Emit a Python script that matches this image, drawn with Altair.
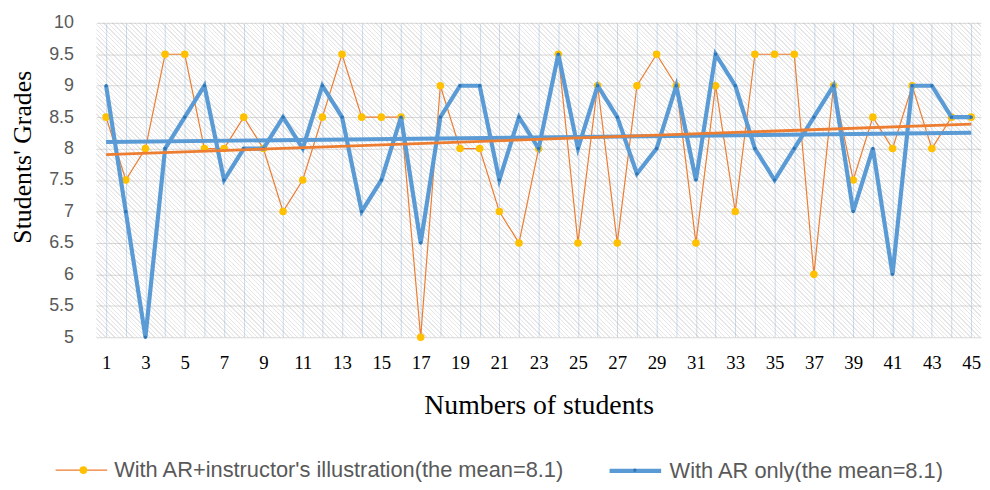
import altair as alt
import pandas as pd

# ---------------- data ----------------
students = list(range(1, 46))
ar_instructor = [8.5, 7.5, 8, 9.5, 9.5, 8, 8, 8.5, 8, 7,
                 7.5, 8.5, 9.5, 8.5, 8.5, 8.5, 5, 9, 8, 8,
                 7, 6.5, 8, 9.5, 6.5, 9, 6.5, 9, 9.5, 9,
                 6.5, 9, 7, 9.5, 9.5, 9.5, 6, 9, 7.5, 8.5,
                 8, 9, 8, 8.5, 8.5]
ar_only = [9, 7, 5, 8, 8.5, 9, 7.5, 8, 8, 8.5,
           8, 9, 8.5, 7, 7.5, 8.5, 6.5, 8.5, 9, 9,
           7.5, 8.5, 8, 9.5, 8, 9, 8.5, 7.6, 8, 9,
           7.5, 9.5, 9, 8, 7.5, 8, 8.5, 9, 7, 8,
           6, 9, 9, 8.5, 8.5]
series_names = ["With AR+instructor's illustration(the mean=8.1)",
                "With AR only(the mean=8.1)"]
marker_names = ["marker A", "marker B"]
y_ticks = [5, 5.5, 6, 6.5, 7, 7.5, 8, 8.5, 9, 9.5, 10]
x_domain = [0.5, 45.5]
y_domain = [5, 10]

df = pd.DataFrame({
    "student": students * 2,
    "grade": ar_instructor + ar_only,
    "series": [series_names[0]] * len(students) + [series_names[1]] * len(students),
    "marker": [marker_names[0]] * len(students) + [marker_names[1]] * len(students),
})
bg = pd.DataFrame({"student": [x_domain[0]], "student2": [x_domain[1]],
                   "grade": [y_domain[0]], "grade2": [y_domain[1]]})

# ---------------- style ----------------
W, H = 892, 317
ORANGE = "#ED7D31"
GOLD = "#FFC000"
BLUE = "#5B9BD5"
DARKBLUE = "#2E75B6"
SERIF = "Liberation Serif"
SANS = "Liberation Sans"

# diagonal hatch via a striped linear gradient (lines of constant x - y)
t = (W + H) / (W * W + H * H)
gx2, gy2 = t * W, 1 - t * H
period = 4.5
N = int(round((W + H) / period))
HATCH = "rgba(150,150,150,0.24)"
CLEAR = "rgba(255,255,255,0)"
stops = []
for k in range(N):
    a = round(k / N, 6)
    b = round((k + 0.3) / N, 6)
    c = round((k + 1) / N, 6)
    stops += [{"offset": a, "color": HATCH}, {"offset": b, "color": HATCH},
              {"offset": b, "color": CLEAR}, {"offset": c, "color": CLEAR}]
hatch = {"gradient": "linear", "x1": 0, "y1": 1, "x2": gx2, "y2": gy2, "stops": stops}

x_axis = alt.Axis(values=students,
                  labelExpr="datum.value % 2 == 1 ? '' + datum.value : ''",
                  grid=True, gridColor="#c9dcf0", gridWidth=1,
                  ticks=False, tickSize=0, domain=False,
                  labelFont=SERIF, labelFontSize=19, labelColor="#000000",
                  labelPadding=17, labelFlush=False, labelOverlap=False,
                  title="Numbers of students", titleFont=SERIF, titleFontSize=28,
                  titleFontWeight="normal", titleColor="#000000",
                  titleX=W / 2, titleY=77, titleBaseline="alphabetic", titleAlign="center")
y_axis = alt.Axis(values=y_ticks, labelExpr="'' + datum.value",
                  grid=True, gridColor="#d9d9d9", gridWidth=1,
                  ticks=False, tickSize=0, domain=False,
                  labelFont=SANS, labelFontSize=18, labelColor="#595959",
                  labelPadding=23, labelFlush=False, labelOverlap=False,
                  title="Students' Grades", titleFont=SERIF, titleFontSize=26,
                  titleFontWeight="normal", titleColor="#000000",
                  titleX=-66, titleY=135, titleAngle=270,
                  titleBaseline="alphabetic", titleAlign="center")

xs = alt.Scale(domain=x_domain, nice=False, zero=False)
ys = alt.Scale(domain=y_domain, nice=False, zero=False)

def X():
    return alt.X("student:Q", scale=xs, axis=x_axis, title="Numbers of students")

def Y():
    return alt.Y("grade:Q", scale=ys, axis=y_axis, title="Students' Grades")

# line legend (text + line symbols)
legend = alt.Legend(orient="none", legendX=-42, legendY=423, direction="horizontal",
                    title=None, symbolType="stroke", symbolSize=2704,
                    labelFont=SANS, labelFontSize=22, labelColor="#595959",
                    labelOffset=6, columnPadding=36, labelLimit=700, padding=0)
color_enc = alt.Color("series:N", scale=alt.Scale(domain=series_names, range=[ORANGE, BLUE]),
                      legend=legend)
width_enc = alt.StrokeWidth("series:N",
                            scale=alt.Scale(type="ordinal", domain=series_names, range=[1.2, 4.2]),
                            legend=legend)

# marker legend (only the dots, drawn onto the middle of the line symbols)
dot_legend = alt.Legend(orient="none", legendX=-24, legendY=440, direction="horizontal",
                        title=None, symbolType="circle", symbolStrokeWidth=0,
                        labelExpr="''", labelFontSize=22, labelOffset=6,
                        columnPadding=528, padding=0)
fill_enc = alt.Fill("marker:N", scale=alt.Scale(domain=marker_names, range=[GOLD, DARKBLUE]),
                    legend=dot_legend)
size_enc = alt.Size("marker:N", scale=alt.Scale(type="ordinal", domain=marker_names, range=[58, 12]),
                    legend=dot_legend)

background = alt.Chart(bg).mark_rect(fill=hatch, strokeWidth=0).encode(
    x=X(), x2="student2", y=Y(), y2="grade2")

base = alt.Chart(df)
f0 = alt.datum.series == series_names[0]
f1 = alt.datum.series == series_names[1]

line0 = base.transform_filter(f0).mark_line().encode(
    x=X(), y=Y(), color=color_enc, strokeWidth=width_enc)
pts0 = base.transform_filter(f0).mark_point(filled=True, opacity=1, strokeWidth=0).encode(
    x=X(), y=Y(), fill=fill_enc, size=size_enc)
line1 = base.transform_filter(f1).mark_line().encode(
    x=X(), y=Y(), color=color_enc, strokeWidth=width_enc)
pts1 = base.transform_filter(f1).mark_point(filled=True, opacity=1, strokeWidth=0).encode(
    x=X(), y=Y(), fill=fill_enc, size=size_enc)
# trendlines coloured as in the reference picture
trend_rising = base.transform_filter(f1).transform_regression("student", "grade").mark_line(
    strokeWidth=2.8).encode(x=X(), y=Y(), color=alt.value(ORANGE))
trend_flat = base.transform_filter(f0).transform_regression("student", "grade").mark_line(
    strokeWidth=4).encode(x=X(), y=Y(), color=alt.value(BLUE))

chart = alt.layer(background, line0, pts0, line1, pts1, trend_flat, trend_rising).properties(
    width=W, height=H,
    autosize=alt.AutoSizeParams(type="none"),
    padding={"left": 89, "top": 13, "right": 1, "bottom": 144},
    background="#ffffff",
).configure_view(stroke=None, fill="#ffffff")

chart.save("out.html", embed_options={"renderer": "svg", "actions": False})
